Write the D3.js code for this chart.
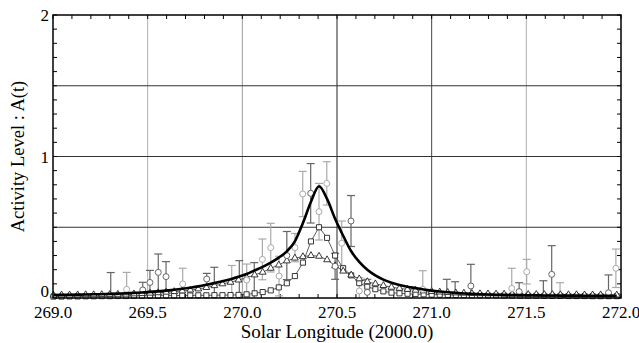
<!DOCTYPE html>
<html>
<head>
<meta charset="utf-8">
<script src="https://cdn.jsdelivr.net/npm/d3@7"></script>
<style>
  html, body { margin: 0; padding: 0; background: #fff; }
</style>
</head>
<body>
<svg id="chart" width="639" height="343"></svg>
<script>
// ---------- DATA ----------
// Solar longitude sample positions (hourly steps)
const solarLongitude = [
  269.0025, 269.045, 269.0875, 269.13, 269.1725, 269.215, 269.2575, 269.30, 269.3425, 269.385,
  269.4275, 269.47, 269.5125, 269.555, 269.5975, 269.64, 269.6825, 269.725, 269.7675, 269.81,
  269.8525, 269.895, 269.9375, 269.98, 270.0225, 270.065, 270.1075, 270.15, 270.1925, 270.235,
  270.2775, 270.32, 270.3625, 270.405, 270.4475, 270.49, 270.5325, 270.575, 270.6175, 270.66,
  270.7025, 270.745, 270.7875, 270.83, 270.8725, 270.915, 270.9575, 271.00, 271.0425, 271.085,
  271.1275, 271.17, 271.2125, 271.255, 271.2975, 271.34, 271.3825, 271.425, 271.4675, 271.51,
  271.5525, 271.595, 271.6375, 271.68, 271.7225, 271.765, 271.8075, 271.85, 271.8925, 271.935,
  271.9775
];
// Thick model curve
const modelCurve = [
  0.021, 0.022, 0.023, 0.024, 0.025, 0.026, 0.027, 0.029, 0.031, 0.033,
  0.036, 0.039, 0.043, 0.047, 0.052, 0.058, 0.065, 0.073, 0.082, 0.093,
  0.105, 0.118, 0.133, 0.150, 0.170, 0.195, 0.220, 0.250, 0.285, 0.330,
  0.400, 0.530, 0.680, 0.790, 0.700, 0.560, 0.440, 0.330, 0.255, 0.200,
  0.160, 0.130, 0.108, 0.092, 0.080, 0.070, 0.060, 0.052, 0.046, 0.041,
  0.036, 0.032, 0.029, 0.027, 0.025, 0.023, 0.022, 0.021, 0.020, 0.019,
  0.019, 0.018, 0.018, 0.017, 0.017, 0.017, 0.016, 0.016, 0.016, 0.016,
  0.016
];
// Triangle series
const triangleSeries = [
  0.020, 0.021, 0.021, 0.022, 0.023, 0.023, 0.024, 0.025, 0.026, 0.027,
  0.029, 0.031, 0.034, 0.037, 0.041, 0.045, 0.050, 0.056, 0.064, 0.074,
  0.087, 0.100, 0.111, 0.127, 0.144, 0.163, 0.182, 0.210, 0.233, 0.262,
  0.282, 0.292, 0.300, 0.295, 0.270, 0.228, 0.190, 0.162, 0.135, 0.115,
  0.100, 0.088, 0.076, 0.068, 0.061, 0.055, 0.050, 0.046, 0.042, 0.039,
  0.036, 0.034, 0.032, 0.030, 0.029, 0.028, 0.027, 0.026, 0.026, 0.025,
  0.025, 0.024, 0.024, 0.023, 0.023, 0.023, 0.022, 0.022, 0.022, 0.021,
  0.021
];
// Square series
const squareSeries = [
  0.010, 0.010, 0.011, 0.011, 0.012, 0.012, 0.013, 0.013, 0.014, 0.014,
  0.015, 0.015, 0.016, 0.016, 0.017, 0.017, 0.018, 0.018, 0.019, 0.019,
  0.020, 0.020, 0.021, 0.022, 0.026, 0.033, 0.042, 0.054, 0.075, 0.104,
  0.155, 0.250, 0.400, 0.500, 0.425, 0.300, 0.210, 0.160, 0.105, 0.080,
  0.062, 0.047, 0.038, 0.033, 0.030, 0.028, 0.026, 0.024, 0.023, 0.022,
  0.021, 0.020, 0.019, 0.019, 0.018, 0.018, 0.017, 0.017, 0.016, 0.016,
  0.016, 0.015, 0.015, 0.015, 0.014, 0.014, 0.014, 0.013, 0.013, 0.013,
  0.013
];
// Observations (circles with error bars)
const obsLongitude = [
  269.305, 269.389, 269.474, 269.512, 269.556, 269.597, 269.685, 269.812, 269.852, 269.944,
  269.984, 270.023, 270.063, 270.106, 270.150, 270.194, 270.235, 270.278, 270.319, 270.361,
  270.405, 270.446, 270.490, 270.525, 270.574, 270.618, 270.660, 270.953, 271.080, 271.124,
  271.207, 271.423, 271.462, 271.502, 271.590, 271.634, 271.678, 271.934, 271.973
];
const obsValue = [
  0.000, 0.061, 0.057, 0.110, 0.181, 0.151, 0.099, 0.134, 0.000, 0.000,
  0.000, 0.127, 0.000, 0.273, 0.356, 0.155, 0.300, 0.356, 0.735, 0.740,
  0.610, 0.810, 0.224, 0.387, 0.544, 0.050, 0.040, 0.061, 0.000, 0.000,
  0.085, 0.068, 0.045, 0.186, 0.000, 0.167, 0.000, 0.037, 0.210
];
const obsError = [
  0.180, 0.120, 0.054, 0.085, 0.130, 0.106, 0.111, 0.040, 0.217, 0.230,
  0.264, 0.113, 0.250, 0.144, 0.172, 0.140, 0.170, 0.100, 0.160, 0.210,
  0.200, 0.153, 0.092, 0.157, 0.180, 0.094, 0.092, 0.132, 0.132, 0.115,
  0.153, 0.142, 0.063, 0.087, 0.122, 0.203, 0.108, 0.126, 0.136
];
const obsShade = [
  "dark", "light", "dark", "dark", "dark", "dark", "light", "dark", "dark", "light",
  "dark", "light", "dark", "light", "light", "light", "dark", "light", "light", "dark",
  "light", "light", "dark", "light", "dark", "light", "dark", "light", "dark", "dark",
  "dark", "light", "dark", "light", "dark", "dark", "light", "dark", "light"
];
const xTicks = [269.0, 269.5, 270.0, 270.5, 271.0, 271.5, 272.0];
const yTicks = [0, 1, 2];
const xGrid = [269.5, 270.0, 270.5, 271.0, 271.5];
const xGridShade = ["#b0b0b0", "#9a9a9a", "#222", "#444", "#b0b0b0"];
const yGrid = [0.5, 1.0, 1.5];

// ---------- LAYOUT ----------
const FONT = '"Liberation Serif", "Times New Roman", Tinos, serif';
const svg = d3.select("#chart");
const mLeft = 53, mRight = 621, mTop = 15, mBottom = 298;
const x = d3.scaleLinear().domain([269, 272]).range([mLeft, mRight]);
const y = d3.scaleLinear().domain([0, 2]).range([mBottom, mTop]);

// Grid lines
svg.append("g").selectAll("line").data(xGrid).join("line")
  .attr("x1", d => x(d)).attr("x2", d => x(d))
  .attr("y1", mTop).attr("y2", mBottom)
  .attr("stroke", (d, i) => xGridShade[i]).attr("stroke-width", 1);
svg.append("g").selectAll("line").data(yGrid).join("line")
  .attr("x1", mLeft).attr("x2", mRight)
  .attr("y1", d => y(d)).attr("y2", d => y(d))
  .attr("stroke", "#333").attr("stroke-width", 1);

// Minor ticks (inward, all four sides)
const xMinor = d3.range(0, 31).map(i => 269 + i * 0.1);
const yMinor = d3.range(0, 21).map(i => i * 0.1);
const tk = svg.append("g").attr("stroke", "#000").attr("stroke-width", 1);
tk.selectAll(".xb").data(xMinor).join("line").attr("class", "xb")
  .attr("x1", d => x(d)).attr("x2", d => x(d)).attr("y1", mBottom).attr("y2", mBottom - 4);
tk.selectAll(".xt").data(xMinor).join("line").attr("class", "xt")
  .attr("x1", d => x(d)).attr("x2", d => x(d)).attr("y1", mTop).attr("y2", mTop + 4);
tk.selectAll(".yl").data(yMinor).join("line").attr("class", "yl")
  .attr("x1", mLeft).attr("x2", mLeft + 4).attr("y1", d => y(d)).attr("y2", d => y(d));
tk.selectAll(".yr").data(yMinor).join("line").attr("class", "yr")
  .attr("x1", mRight).attr("x2", mRight - 4).attr("y1", d => y(d)).attr("y2", d => y(d));

// Error bars
const obs = obsLongitude.map((lon, i) => ({
  lon, v: obsValue[i], e: obsError[i],
  c: obsShade[i] === "dark" ? "#666" : "#aaa"
}));
const eb = svg.append("g");
obs.forEach(d => {
  const lo = Math.max(0, d.v - d.e), hi = d.v + d.e;
  eb.append("line").attr("x1", x(d.lon)).attr("x2", x(d.lon))
    .attr("y1", y(lo)).attr("y2", y(hi)).attr("stroke", d.c).attr("stroke-width", 1.2);
  eb.append("line").attr("x1", x(d.lon) - 4).attr("x2", x(d.lon) + 4)
    .attr("y1", y(hi)).attr("y2", y(hi)).attr("stroke", d.c).attr("stroke-width", 1.2);
  if (d.v - d.e > 0.01) {
    eb.append("line").attr("x1", x(d.lon) - 4).attr("x2", x(d.lon) + 4)
      .attr("y1", y(lo)).attr("y2", y(lo)).attr("stroke", d.c).attr("stroke-width", 1.2);
  }
});

// Square series
const sq = solarLongitude.map((lon, i) => [lon, squareSeries[i]]);
svg.append("path").datum(sq)
  .attr("d", d3.line().x(d => x(d[0])).y(d => y(d[1])))
  .attr("fill", "none").attr("stroke", "#333").attr("stroke-width", 0.8);
svg.append("g").selectAll("path").data(sq).join("path")
  .attr("d", d3.symbol().type(d3.symbolSquare).size(26))
  .attr("transform", d => `translate(${x(d[0])},${y(d[1])})`)
  .attr("fill", "#fff").attr("stroke", "#222").attr("stroke-width", 0.9);

// Triangle series
const tr = solarLongitude.map((lon, i) => [lon, triangleSeries[i]]);
svg.append("path").datum(tr)
  .attr("d", d3.line().x(d => x(d[0])).y(d => y(d[1])))
  .attr("fill", "none").attr("stroke", "#333").attr("stroke-width", 0.8);
svg.append("g").selectAll("path").data(tr).join("path")
  .attr("d", d3.symbol().type(d3.symbolTriangle).size(20))
  .attr("transform", d => `translate(${x(d[0])},${y(d[1])})`)
  .attr("fill", "#fff").attr("stroke", "#222").attr("stroke-width", 0.9);

// Circles
svg.append("g").selectAll("circle").data(obs.filter(d => d.v > 0.02)).join("circle")
  .attr("cx", d => x(d.lon)).attr("cy", d => y(d.v)).attr("r", 3)
  .attr("fill", "#fff").attr("stroke", d => d.c).attr("stroke-width", 1);

// Thick model curve
const mc = solarLongitude.map((lon, i) => [lon, modelCurve[i]]);
svg.append("path").datum(mc)
  .attr("d", d3.line().x(d => x(d[0])).y(d => y(d[1])).curve(d3.curveMonotoneX))
  .attr("fill", "none").attr("stroke", "#000").attr("stroke-width", 2.6);

// Frame
svg.append("rect").attr("x", mLeft).attr("y", mTop)
  .attr("width", mRight - mLeft).attr("height", mBottom - mTop)
  .attr("fill", "none").attr("stroke", "#000").attr("stroke-width", 1.5);

// Tick labels
svg.append("g").selectAll("text").data(xTicks).join("text")
  .attr("x", d => x(d)).attr("y", 318)
  .attr("text-anchor", "middle").style("font-size", "17px").style("font-family", FONT)
  .text(d => d.toFixed(1));
svg.append("g").selectAll("text").data(yTicks).join("text")
  .attr("x", 49).attr("y", d => y(d) + (d === 0 ? -1 : 6))
  .attr("text-anchor", "end").style("font-size", "17px").style("font-family", FONT)
  .text(d => d);

// Axis titles
svg.append("text").attr("x", 337).attr("y", 338)
  .attr("text-anchor", "middle").style("font-size", "19px").style("font-family", FONT)
  .text("Solar Longitude (2000.0)");
svg.append("text")
  .attr("transform", `translate(24,${(mTop + mBottom) / 2}) rotate(-90)`)
  .attr("text-anchor", "middle").style("font-size", "18.5px").style("font-family", FONT)
  .text("Activity Level : A(t)");
</script>
</body>
</html>
